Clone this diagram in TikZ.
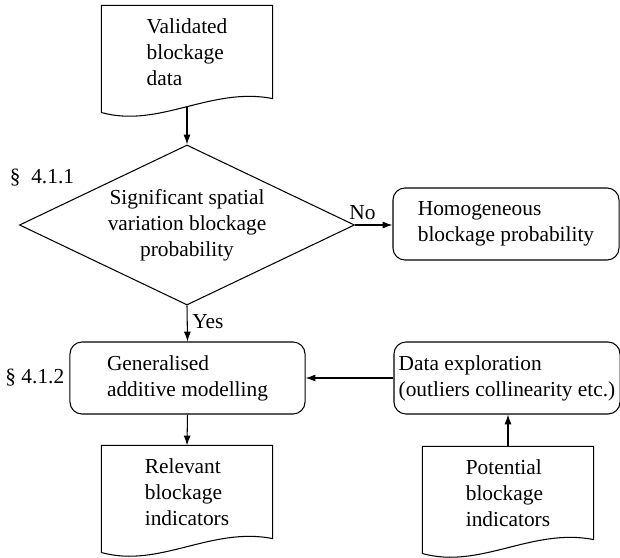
\documentclass[tikz,border=0pt]{standalone}
\usepackage{fontspec}
\setmainfont{Liberation Serif}
\usepackage{tikz}
\usetikzlibrary{arrows.meta,shapes.geometric}

% outline of a document node, wavy bottom
\newcommand{\docoutline}[1]{%
    \draw ([yshift=-0.35cm]#1.south west) -- (#1.north west) -- (#1.north east) -- (#1.south east)
        .. controls +(-62,-12) and +(58,16) .. ([yshift=-0.35cm]#1.south west);}

\begin{document}
\begin{tikzpicture}[x=0.025cm,y=-0.025cm,line width=0.75pt,font=\fontsize{15.2}{18.4}\selectfont]
    \tikzstyle{docbox} = [minimum width=4.25cm,minimum height=2.3cm,inner sep=0pt,align=left]
    \tikzstyle{procbox} = [draw,rounded corners=0.3cm,minimum height=1.8cm,align=left]
    \tikzstyle{decbox} = [draw,diamond,aspect=2,minimum width=8.375cm,minimum height=4cm,inner sep=0pt,align=center]
    \tikzstyle{flowline} = [-{Latex[length=7pt,width=5pt]}]
    \useasboundingbox (0,0) rectangle (620,558);

    \node[docbox] (valid) at (187,52) {Validated\\blockage\\data};
    \docoutline{valid}

    \node[decbox] (signif) at (187,225) {Significant spatial\\variation blockage\\probability};
    \node (sec1) at (42,178) {\S~~4.1.1};

    \node[procbox,minimum width=5.65cm] (homog) at (506,224) {Homogeneous\\blockage probability};

    \node[procbox,minimum width=5.875cm] (gam) at (187.5,378) {Generalised\\additive modelling};
    \node[left] (sec2) at (gam.west) {\S~4.1.2};

    \node[procbox,minimum width=5.65cm,inner xsep=2pt] (explore) at (507,378) {Data exploration\\(outliers collinearity etc.)};

    \node[docbox] (relevant) at (187,492) {Relevant\\blockage\\indicators};
    \docoutline{relevant}
    \node[docbox] (potential) at (508,493) {Potential\\blockage\\indicators};
    \docoutline{potential}

    \draw[flowline] ([yshift=-0.2cm]valid.south) -- (signif.north);
    \draw[flowline] (signif.east) -- node[pos=0.2,above] (nolabel) {No} (signif.east -| homog.west);
    \draw[flowline] (signif.south) -- node[pos=0.45,right] (yeslabel) {Yes} (gam.north);
    \draw[flowline] (gam.south) -- (relevant.north);
    \draw[flowline] (explore.west) -- (gam.east);
    \draw[flowline] (potential.north) -- (potential.north |- explore.south);
\end{tikzpicture}
\end{document}
